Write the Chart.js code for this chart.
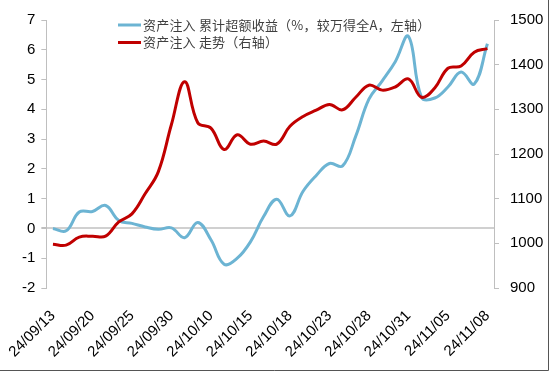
<!DOCTYPE html>
<html>
<head>
<meta charset="utf-8">
<script src="https://cdn.jsdelivr.net/npm/chart.js@4.4.1/dist/chart.umd.min.js"></script>
<style>
  html, body { margin: 0; padding: 0; background: #fff; }
  #wrap { width: 550px; height: 371px; position: relative; }
</style>
</head>
<body>
<div id="wrap"><canvas id="c" width="550" height="371"></canvas></div>
<script>
// Trading days
const dates = ['24/09/13','24/09/18','24/09/19','24/09/20','24/09/23','24/09/24','24/09/25','24/09/26','24/09/27','24/09/30',
  '24/10/08','24/10/09','24/10/10','24/10/11','24/10/14','24/10/15','24/10/16','24/10/17','24/10/18','24/10/21',
  '24/10/22','24/10/23','24/10/24','24/10/25','24/10/28','24/10/29','24/10/30','24/10/31','24/11/01','24/11/04',
  '24/11/05','24/11/06','24/11/07','24/11/08'];

// 资产注入 累计超额收益 (%, left axis)
const excessReturn = [0.0, -0.08, 0.55, 0.57, 0.77, 0.27, 0.17, 0.05, -0.03, 0.02,
  -0.31, 0.2, -0.38, -1.2, -1.0, -0.45, 0.4, 0.98, 0.42, 1.25,
  1.78, 2.18, 2.1, 3.1, 4.34, 4.95, 5.6, 6.45, 4.4, 4.38,
  4.75, 5.25, 4.85, 6.2];

// 资产注入 走势 (right axis)
const trendIndex = [998, 996, 1014, 1016, 1016, 1048, 1066, 1111, 1160, 1266,
  1362, 1270, 1258, 1210, 1243, 1222, 1229, 1222, 1262, 1284,
  1298, 1311, 1299, 1327, 1354, 1343, 1350, 1368, 1327, 1348,
  1392, 1397, 1428, 1436];

// Axis tick labels shown on the category axis (every third trading day)
const tickLabels = ['24/09/13','24/09/20','24/09/25','24/09/30','24/10/10','24/10/15','24/10/18','24/10/23','24/10/28','24/10/31','24/11/05','24/11/08'];

const seriesNames = ['资产注入 累计超额收益（%，较万得全A，左轴）', '资产注入 走势（右轴）'];
const seriesColors = ['#6CB4D3', '#C00000'];

const legendPlugin = {
  id: 'customLegend',
  afterDraw(chart) {
    const ctx = chart.ctx;
    ctx.save();
    const rows = [25, 42.5];
    chart.data.datasets.forEach((ds, i) => {
      const y = rows[i];
      ctx.strokeStyle = ds.borderColor;
      ctx.lineWidth = 3;
      ctx.beginPath();
      ctx.moveTo(118, y);
      ctx.lineTo(141, y);
      ctx.stroke();
      ctx.fillStyle = '#404040';
      ctx.font = '13px "Noto Sans CJK SC"';
      ctx.textBaseline = 'middle';
      ctx.textAlign = 'left';
      try { ctx.letterSpacing = '0.2px'; } catch (e) {}
      ctx.fillText(ds.label, 143, y);
    });
    ctx.restore();
  }
};

const framePlugin = {
  id: 'frame',
  afterDraw(chart) {
    const ctx = chart.ctx;
    ctx.save();
    ctx.strokeStyle = '#555';
    ctx.lineWidth = 1;
    ctx.beginPath();
    ctx.moveTo(548.5, 0);
    ctx.lineTo(548.5, 370.5);
    ctx.lineTo(0, 370.5);
    ctx.stroke();
    ctx.restore();
  }
};

const tickFont = { family: 'Liberation Sans, Arial', size: 15 };

new Chart(document.getElementById('c'), {
  type: 'line',
  data: {
    labels: dates,
    datasets: [
      {
        label: seriesNames[0],
        data: excessReturn,
        borderColor: seriesColors[0],
        backgroundColor: seriesColors[0],
        borderWidth: 3,
        pointRadius: 0,
        tension: 0.4,
        yAxisID: 'y',
        order: 1
      },
      {
        label: seriesNames[1],
        data: trendIndex,
        borderColor: seriesColors[1],
        backgroundColor: seriesColors[1],
        borderWidth: 3,
        pointRadius: 0,
        tension: 0.4,
        yAxisID: 'y1',
        order: 0
      }
    ]
  },
  options: {
    responsive: false,
    animation: false,
    devicePixelRatio: 1,
    layout: { padding: { top: 20, left: 0, right: 0, bottom: 0 } },
    plugins: { legend: { display: false }, tooltip: { enabled: false } },
    scales: {
      x: {
        type: 'category',
        position: 'bottom',
        offset: true,
        grid: { display: false },
        border: { display: false },
        ticks: {
          autoSkip: false,
          maxRotation: 45,
          minRotation: 45,
          padding: 11,
          color: '#000',
          font: tickFont,
          callback: function (value, index) {
            return index % 3 === 0 && tickLabels[index / 3] ? tickLabels[index / 3] : '';
          }
        },
        afterFit(scale) { scale.height = 83; }
      },
      y: {
        position: 'left',
        min: -2,
        max: 7,
        ticks: { stepSize: 1, color: '#000', font: tickFont, padding: 6 },
        grid: {
          color: (c) => (c.tick && c.tick.value === 0 ? '#D0D0D0' : 'rgba(0,0,0,0)'),
          lineWidth: (c) => (c.tick && c.tick.value === 0 ? 2 : 1),
          tickColor: '#BFBFBF',
          tickLength: 5,
          drawTicks: true
        },
        border: { display: true, color: '#BFBFBF', width: 1 },
        afterFit(scale) { scale.width = 44; }
      },
      y1: {
        position: 'right',
        min: 900,
        max: 1500,
        ticks: {
          stepSize: 100, color: '#000', font: tickFont, padding: 11,
          callback: (v) => String(v)
        },
        grid: { drawOnChartArea: false, tickColor: '#BFBFBF', tickLength: 5 },
        border: { display: true, color: '#BFBFBF', width: 1 },
        afterFit(scale) { scale.width = 56; }
      }
    }
  },
  plugins: [legendPlugin, framePlugin]
});
</script>
</body>
</html>
